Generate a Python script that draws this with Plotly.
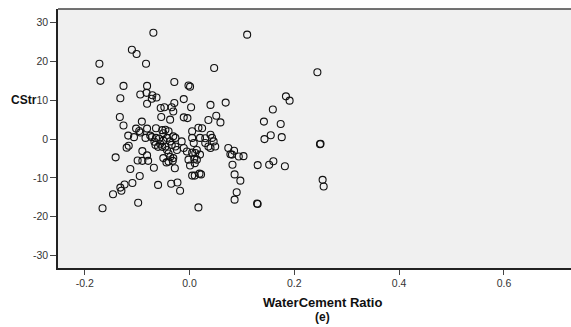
import plotly.graph_objects as go

# Residual scatter: WaterCement Ratio (e) vs CStr (e)
water_cement = [
    -0.069, -0.172, -0.170, -0.110, -0.101, -0.083, 0.110, 0.047, 0.244, -0.126,
    -0.081, -0.029, -0.002, 0.001, -0.132, -0.094, -0.082, -0.071, -0.063, -0.072,
    -0.081, -0.055, -0.048, -0.034, -0.011, -0.029, 0.003, 0.040, 0.069, 0.184,
    0.191, 0.159, -0.133, -0.091, -0.054, -0.126, -0.102, -0.096, -0.081, -0.064,
    -0.052, -0.117, -0.106, -0.094, -0.084, -0.075, -0.072, -0.064, -0.058, -0.067,
    -0.065, -0.056, -0.050, -0.060, -0.052, -0.120, -0.116, -0.141, -0.090, -0.081,
    -0.099, -0.090, -0.079, -0.044, -0.113, -0.068, -0.095, -0.109, -0.124, -0.132,
    -0.130, -0.060, -0.146, -0.098, -0.166, -0.040, -0.037, -0.032, -0.028, -0.035,
    -0.023, -0.018, 0.001, 0.010, 0.005, 0.010, 0.019, 0.022, 0.017, 0.005,
    0.009, -0.046, -0.040, -0.050, -0.043, -0.031, -0.027, -0.037, -0.034, -0.046,
    -0.027, -0.043, -0.024, -0.015, -0.011, -0.005, 0.005, 0.005, 0.008, 0.014,
    0.011, 0.020, 0.024, 0.020, 0.030, 0.040, 0.043, 0.046, 0.036, 0.040,
    0.049, 0.074, 0.081, 0.094, 0.014, -0.002, -0.031, -0.040, -0.050, -0.031,
    -0.011, -0.004, 0.036, 0.059, 0.017, 0.051, -0.037, 0.030, 0.085, 0.078,
    0.103, 0.082, 0.086, 0.097, 0.090, 0.086, 0.130, 0.152, 0.160, 0.182,
    0.129, 0.130, 0.142, 0.174, 0.155, 0.143, 0.176, 0.249, 0.250, 0.254,
    0.256,
]
cstr = [
    27.4, 19.4, 15.0, 23.0, 21.9, 19.4, 26.9, 18.3, 17.2, 13.7,
    13.7, 14.7, 13.8, 13.5, 10.5, 11.5, 11.9, 11.3, 10.7, 10.4,
    9.1, 8.0, 8.2, 8.2, 10.3, 9.3, 8.2, 8.8, 9.4, 11.0,
    9.9, 7.6, 5.7, 4.5, 5.7, 3.5, 2.7, 2.1, 2.7, 2.8,
    2.3, 0.9, 0.5, 1.7, 0.3, 0.9, 0.5, 0.3, 0.1, -0.7,
    -1.5, -1.2, -0.4, -2.0, -2.0, -2.2, -1.7, -4.7, -3.1, -4.2,
    -5.5, -5.6, -5.6, -6.0, -7.7, -7.4, -9.5, -11.3, -11.7, -12.5,
    -13.3, -11.8, -14.2, -16.4, -17.8, -3.7, -4.6, -5.6, -7.5, -11.5,
    -11.2, -13.3, -6.8, -6.2, -9.4, -9.4, -8.9, -9.1, -17.6, -3.5,
    -5.1, 2.4, 2.0, 1.5, 0.3, 0.7, 0.3, -0.6, -1.5, -1.9,
    -1.9, -2.8, -2.8, -0.6, -2.3, -3.2, 2.0, 0.3, -1.0, -2.8,
    -3.6, -4.0, 2.8, 0.3, -1.0, 1.1, 0.3, -0.6, -1.9, -2.3,
    -1.9, -2.3, -4.0, -4.5, -5.3, -5.3, -4.9, -5.8, -4.9, 7.1,
    5.6, 5.4, 4.9, 4.3, 2.9, 6.0, 5.0, 0.2, -3.0, -3.9,
    -4.4, -6.6, -9.1, -10.7, -13.7, -15.6, -6.7, -6.6, -5.7, -7.0,
    -16.6, -16.7, 4.5, 3.9, 1.0, 0.0, 0.5, -1.3, -1.2, -10.5,
    -12.2,
]

x_ticks = [-0.2, 0.0, 0.2, 0.4, 0.6]
x_tick_labels = ["-0.2", "0.0", "0.2", "0.4", "0.6"]
y_ticks = [-30, -20, -10, 0, 10, 20, 30]
y_tick_labels = ["-30", "-20", "-10", "0", "10", "20", "30"]

FONT = "Liberation Sans, Arial, sans-serif"

fig = go.Figure()
fig.add_trace(go.Scatter(
    x=water_cement, y=cstr, mode="markers",
    marker=dict(symbol="circle-open", size=7, color="#111111",
                line=dict(width=1.1, color="#111111")),
    hoverinfo="x+y", showlegend=False,
))

fig.update_layout(
    width=571, height=327,
    margin=dict(l=58, r=0, t=9, b=59),
    paper_bgcolor="white",
    plot_bgcolor="#f0f0f0",
    font=dict(family=FONT, size=10.5, color="#333333"),
    xaxis=dict(
        range=[-0.251, 0.728], tickvals=x_ticks, ticktext=x_tick_labels,
        showgrid=False, zeroline=False, showline=True, linecolor="#222222",
        linewidth=1.5, ticks="outside", ticklen=5, tickwidth=1.2,
        tickcolor="#444444", tickfont=dict(size=10.5, color="#333333"),
    ),
    yaxis=dict(
        range=[-33.2, 33.5], tickvals=y_ticks, ticktext=y_tick_labels,
        showgrid=False, zeroline=False, showline=True, linecolor="#222222",
        linewidth=1.5, ticks="outside", ticklen=6, tickwidth=1.2,
        tickcolor="#444444", tickfont=dict(size=10.5, color="#333333"),
    ),
    shapes=[dict(type="line", xref="paper", yref="paper", x0=0, x1=1, y0=1, y1=1,
                 line=dict(color="#444444", width=1.5))],
    annotations=[
        dict(text="<b>CStr</b>", xref="paper", yref="y", x=0, y=10,
             xanchor="right", yanchor="middle", xshift=-19, showarrow=False,
             font=dict(family=FONT, size=12, color="#111111")),
        dict(text="<b>WaterCement Ratio</b>", xref="paper", yref="paper",
             x=(322 - 58) / 513, y=0, xanchor="center", yanchor="middle",
             yshift=-34, showarrow=False,
             font=dict(family=FONT, size=13, color="#111111")),
        dict(text="<b>(e)</b>", xref="paper", yref="paper",
             x=(322 - 58) / 513, y=0, xanchor="center", yanchor="middle",
             yshift=-49, showarrow=False,
             font=dict(family=FONT, size=12, color="#111111")),
    ],
)

fig.write_html("out.html")
